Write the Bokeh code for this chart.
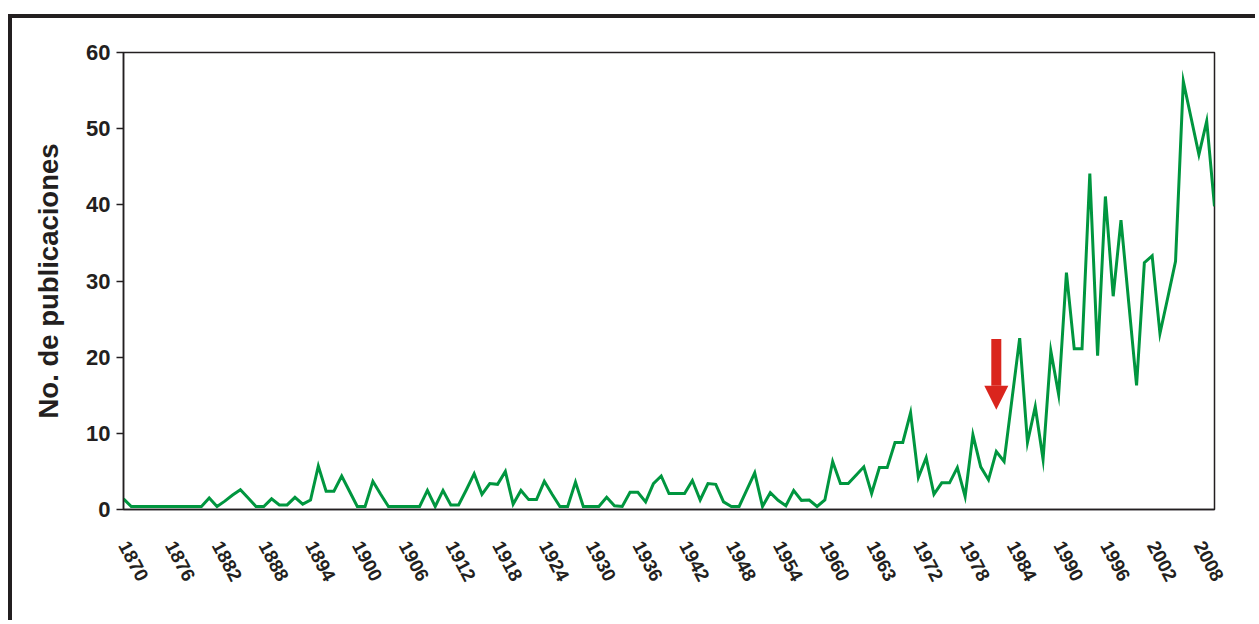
from bokeh.plotting import figure
from bokeh.models import FixedTicker, Arrow, NormalHead, Range1d
from bokeh.embed import file_html
from bokeh.resources import INLINE

# Publications per year (index 0 = first plotted year, labels every 6th point)
values = [
    1.4, 0.4, 0.4, 0.4, 0.4, 0.4, 0.4, 0.4, 0.4, 0.4,
    0.4, 1.5, 0.4, 1.1, 1.9, 2.6, 1.5, 0.4, 0.4, 1.4,
    0.6, 0.6, 1.6, 0.7, 1.25, 5.7, 2.4, 2.4, 4.4, 2.4,
    0.4, 0.4, 3.7, 2.0, 0.4, 0.4, 0.4, 0.4, 0.4, 2.5,
    0.4, 2.5, 0.6, 0.6, 2.6, 4.7, 2.0, 3.4, 3.3, 5.0,
    0.7, 2.5, 1.3, 1.3, 3.7, 2.0, 0.4, 0.4, 3.6, 0.4,
    0.4, 0.4, 1.6, 0.5, 0.4, 2.25, 2.25, 1.0, 3.4, 4.4,
    2.1, 2.1, 2.1, 3.8, 1.25, 3.4, 3.3, 1.0, 0.4, 0.4,
    2.6, 4.8, 0.4, 2.2, 1.2, 0.5, 2.5, 1.2, 1.25, 0.4,
    1.25, 6.3, 3.4, 3.4, 4.5, 5.6, 2.1, 5.5, 5.5, 8.8,
    8.8, 12.7, 4.2, 6.8, 2.0, 3.5, 3.5, 5.5, 1.7, 9.8,
    5.6, 3.9, 7.6, 6.3, 14.4, 22.5, 8.8, 13.5, 6.6, 20.8,
    15.1, 31.1, 21.1, 21.1, 44.1, 20.2, 41.1, 28.0, 38.0, 27.1,
    16.3, 32.4, 33.3, 23.1, 27.8, 32.6, 56.2, 51.4, 46.6, 51.0,
    39.8,
]

tick_labels = ["1870", "1876", "1882", "1888", "1894", "1900", "1906", "1912",
               "1918", "1924", "1930", "1936", "1942", "1948", "1954", "1960",
               "1963", "1972", "1978", "1984", "1990", "1996", "2002", "2008"]
first_label_index = 0
label_step = 6

y_ticks = [0, 10, 20, 30, 40, 50, 60]

# red marker arrow (data coordinates)
arrow_x = 112
arrow_top = 22.4
arrow_tip = 13.1

x = list(range(len(values)))
tick_pos = [first_label_index + label_step * k for k in range(len(tick_labels))]

INK = "#231f20"
FONT = "Liberation Sans"

p = figure(width=1247, height=606,
           x_range=Range1d(0, len(values) - 1), y_range=Range1d(0, 60),
           output_backend="svg", toolbar_location=None,
           min_border_left=111, min_border_right=45,
           min_border_top=34, min_border_bottom=115)
p.styles = {"border-top": "4px solid " + INK, "border-left": "4px solid " + INK,
            "margin-top": "14px", "margin-left": "8px"}

p.grid.visible = False
p.outline_line_color = INK
p.outline_line_width = 1.5
p.background_fill_color = "white"
p.border_fill_color = "white"

xa = p.xaxis[0]
xa.ticker = FixedTicker(ticks=tick_pos)
xa.major_label_overrides = {pos: lab for pos, lab in zip(tick_pos, tick_labels)}
xa.major_label_orientation = -1.08
xa.major_tick_line_color = None
xa.minor_tick_line_color = None
xa.axis_line_color = INK
xa.axis_line_width = 1.5
xa.major_label_text_font = FONT
xa.major_label_text_font_style = "bold"
xa.major_label_text_font_size = "19px"
xa.major_label_text_color = INK
xa.major_label_standoff = 27

ya = p.yaxis[0]
ya.ticker = FixedTicker(ticks=y_ticks)
ya.major_tick_out = 7
ya.major_tick_in = 0
ya.minor_tick_line_color = None
ya.major_tick_line_color = INK
ya.major_tick_line_width = 1.5
ya.axis_line_color = INK
ya.axis_line_width = 1.5
ya.major_label_text_font = FONT
ya.major_label_text_font_style = "bold"
ya.major_label_text_font_size = "22px"
ya.major_label_text_color = INK
ya.major_label_standoff = 6
ya.axis_label = "No. de publicaciones"
ya.axis_label_text_font = FONT
ya.axis_label_text_font_style = "bold"
ya.axis_label_text_font_size = "27.5px"
ya.axis_label_text_color = INK
ya.axis_label_standoff = 19

p.line(x, values, line_color="#00963F", line_width=3, line_join="miter")

p.add_layout(Arrow(end=NormalHead(size=24, fill_color="#DA251D", line_color="#DA251D", line_width=0),
                   x_start=arrow_x, y_start=arrow_top, x_end=arrow_x, y_end=arrow_tip,
                   line_color="#DA251D", line_width=10))

open("out.html", "w").write(file_html(p, INLINE))
